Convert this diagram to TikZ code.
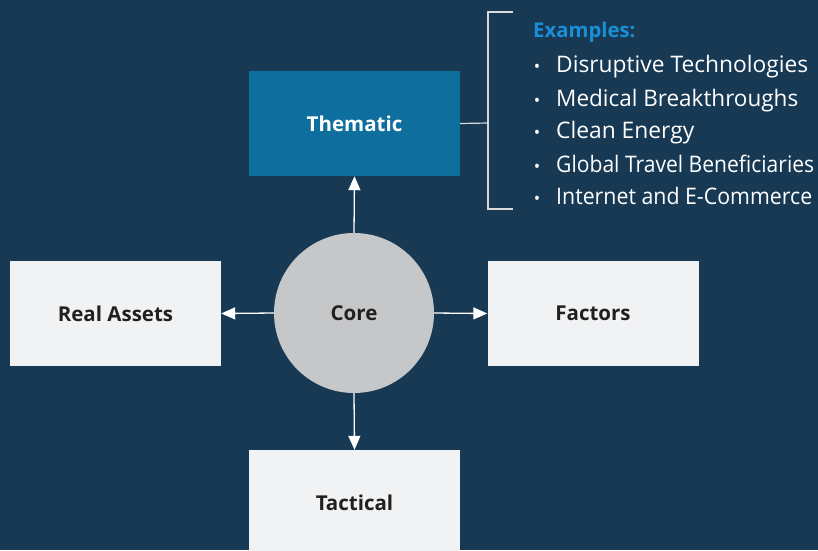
\documentclass[tikz,border=0pt]{standalone}
\usepackage{fontspec}
\setmainfont{Open Sans}
\usetikzlibrary{arrows.meta}
\definecolor{bgnavy}{HTML}{173954}
\definecolor{thblue}{HTML}{0E6F9E}
\definecolor{lightbox}{HTML}{F1F2F4}
\definecolor{coregray}{HTML}{C6C7C9}
\definecolor{darktext}{HTML}{231F20}
\definecolor{exblue}{HTML}{1A8FD6}
\definecolor{brgray}{HTML}{D9DADC}
\begin{document}
\begin{tikzpicture}[x=1pt,y=-1pt,
  boxbase/.style={rectangle,minimum width=211pt,minimum height=105pt,inner sep=0pt,font=\fontsize{20.5}{24}\selectfont\bfseries},
  lightbx/.style={boxbase,fill=lightbox,text=darktext},
  themebx/.style={boxbase,fill=thblue,text=white},
  corecirc/.style={circle,fill=coregray,minimum size=160pt,inner sep=0pt,text=darktext,font=\fontsize{20.5}{24}\selectfont\bfseries},
  conn/.style={draw=white,line width=1.3pt,-{Triangle[width=12pt,length=14pt]}},
  brline/.style={draw=brgray,line width=1.2pt},
  item/.style={anchor=base west,inner sep=0pt,text=white,font=\fontsize{22.8}{26}\selectfont},
  bul/.style={anchor=base,inner sep=0pt,text=white,font=\fontsize{17}{20}\selectfont}
]
\useasboundingbox (0,0) rectangle (818,550);
\fill[bgnavy] (0,0) rectangle (818,550);
\node[themebx] (them) at (354.5,123.5) {Thematic};
\node[lightbx] (real) at (115.5,313.5) {Real Assets};
\node[lightbx] (fact) at (593,313.5) {Factors};
\node[lightbx] (tact) at (354.5,502.5) {Tactical};
\node[corecirc] (core) at (354,313) {Core};
\draw[conn] (core.north) -- (them.south);
\draw[conn] (core.south) -- (tact.north);
\draw[conn] (core.west) -- (real.east);
\draw[conn] (core.east) -- (fact.west);
\coordinate (brmid) at (488,123);
\coordinate (brtop) at (488,12);
\coordinate (brbot) at (488,209);
\draw[brline] (them.east) -- (brmid);
\draw[brline] (513,12) -- (brtop) -- (brbot) -- (513,209);
\node[anchor=base west,inner sep=0pt,text=exblue,font=\fontsize{20.3}{24}\selectfont\bfseries] (ex) at (533,37) {Examples:};
\foreach \y/\w/\t [count=\i] in {72/252/Disruptive Technologies,106/242/Medical Breakthroughs,138/138/Clean Energy,172/258/Global Travel Beneficiaries,204/256/Internet and E-Commerce}{
  \node[bul] (b\i) at (537,\y) {•};
  \node[item] (t\i) at (556,\y) {\resizebox{\w pt}{\height}{\t}};
}
\end{tikzpicture}
\end{document}
